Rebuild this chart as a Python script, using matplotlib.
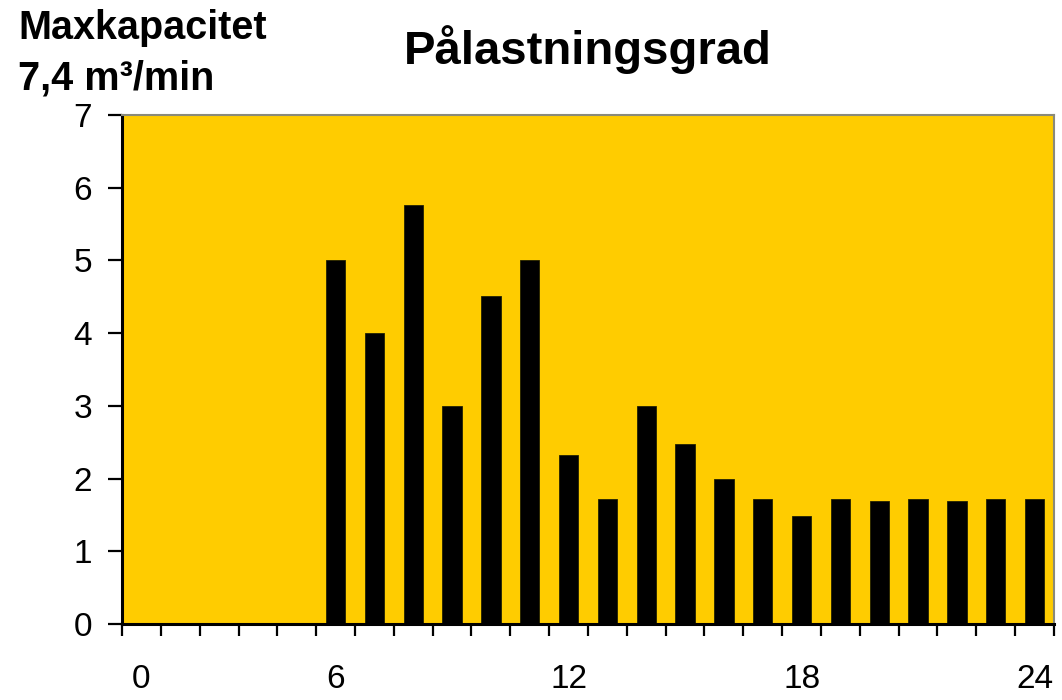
import matplotlib
matplotlib.use("Agg")
import matplotlib.pyplot as plt
from matplotlib.ticker import FixedLocator

plt.rcParams["font.family"] = ["Liberation Sans", "DejaVu Sans"]

# hour categories 1..24, load in m3/min
hours = list(range(1, 25))
load = [0, 0, 0, 0, 0, 5.0, 4.0, 5.76, 3.0, 4.51, 5.0, 2.33,
        1.72, 3.0, 2.48, 1.99, 1.72, 1.48, 1.72, 1.69, 1.72, 1.69, 1.72, 1.72]
label_hours = [1, 6, 12, 18, 24]
label_text = ["0", "6", "12", "18", "24"]
yticks = list(range(0, 8))

YELLOW = "#FFCC00"

fig = plt.figure(figsize=(10.62, 7.0), dpi=100)
ax = fig.add_axes([122 / 1062, 1 - 624 / 700, (1054 - 122) / 1062, (624 - 115) / 700])
ax.set_facecolor(YELLOW)

xpos = [h - 0.5 for h in hours]
ax.bar(xpos, load, width=0.5, color="black", edgecolor="#222200", linewidth=0.6, zorder=2)

ax.set_xlim(0, 24)
ax.set_ylim(0, 7)

# category labels in the middle of their slot, tick marks on the slot borders
ax.xaxis.set_major_locator(FixedLocator([h - 0.5 for h in label_hours]))
ax.set_xticklabels(label_text)
ax.xaxis.set_minor_locator(FixedLocator(list(range(0, 25))))
ax.tick_params(axis="x", which="major", length=0, pad=29, labelsize=24)
ax.tick_params(axis="x", which="minor", length=8.5, width=1.6, direction="out")

ax.set_yticks(yticks)
ax.tick_params(axis="y", which="major", length=10, width=1.6, pad=11.5, labelsize=24)

for side in ("left", "bottom"):
    ax.spines[side].set_color("black")
    ax.spines[side].set_linewidth(2.2)
for side in ("top", "right"):
    ax.spines[side].set_color("#8a8a7a")
    ax.spines[side].set_linewidth(1.5)

ax.set_title("Pålastningsgrad", fontsize=34, fontweight="bold", pad=37)

fig.text(18 / 1062, 1 - 39 / 700, "Maxkapacitet", fontsize=28.5, fontweight="bold",
         ha="left", va="baseline")
fig.text(18 / 1062, 1 - 90 / 700, "7,4 m³/min", fontsize=28.5, fontweight="bold",
         ha="left", va="baseline")

fig.savefig("out.png", dpi=100)
